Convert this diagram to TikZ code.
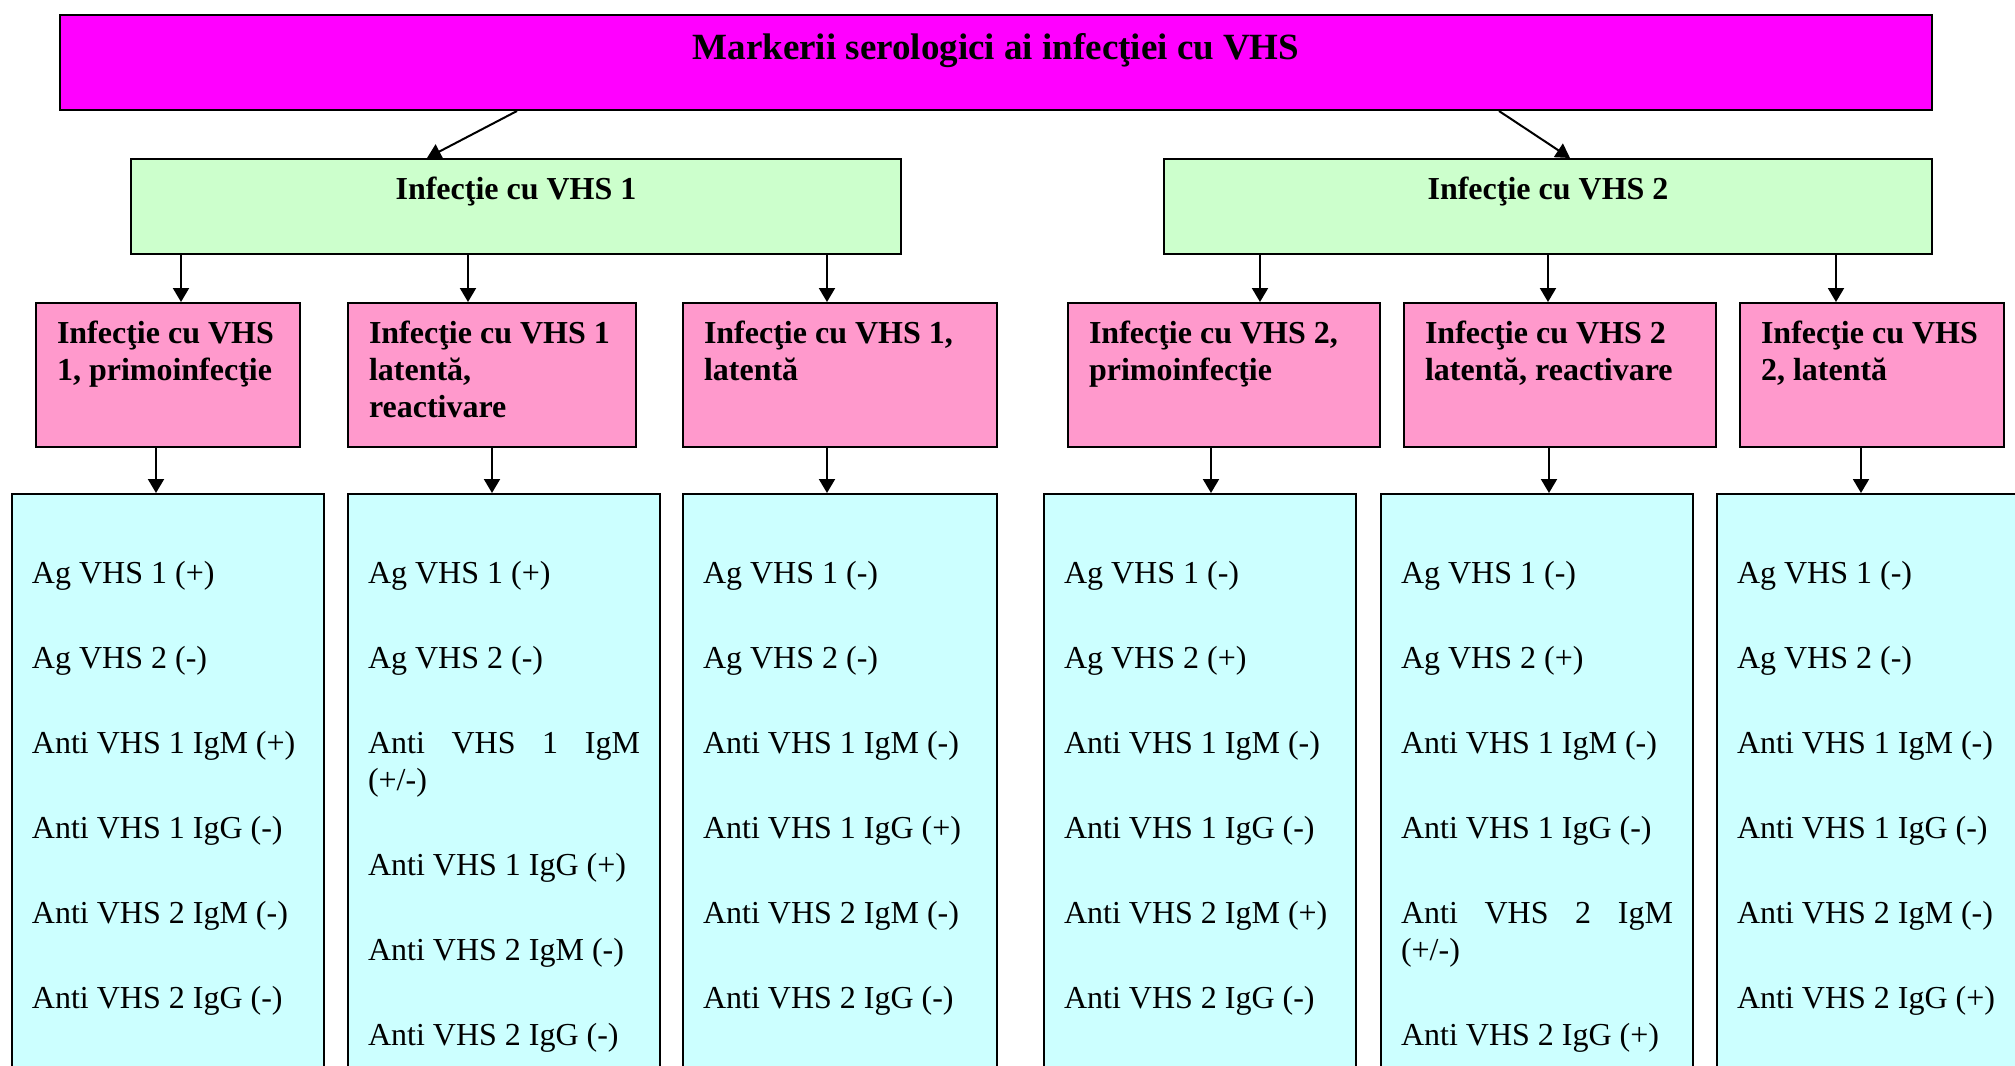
\documentclass[tikz,border=0pt]{standalone}
\usepackage{fontspec}
\setmainfont{Liberation Serif}
\usepackage{xcolor}
\definecolor{vhsmag}{HTML}{FF00FF}
\definecolor{vhsgreen}{HTML}{CCFFCC}
\definecolor{vhspink}{HTML}{FF99CC}
\definecolor{vhscyan}{HTML}{CCFFFF}
\usepackage{tikz}
\usetikzlibrary{arrows.meta,calc}
\newcommand{\gap}{\\[24pt]}

\begin{document}
\begin{tikzpicture}[x=0.5pt,y=-0.5pt,
  box/.style={draw,line width=1pt,anchor=north west,inner ysep=0pt,
    font=\fontsize{16}{18.5}\selectfont,
    execute at begin node={\spaceskip=0pt\xspaceskip=0pt}},
  titlebox/.style={box,fill=vhsmag,font=\fontsize{18.5}{21}\selectfont\bfseries,
    text height=22.2pt,text depth=25.3pt},
  typebox/.style={box,fill=vhsgreen,font=\fontsize{16}{18.5}\selectfont\bfseries,
    text height=20pt,text depth=27.5pt},
  formbox/.style={box,fill=vhspink,font=\fontsize{16}{18.5}\selectfont\bfseries,
    align=left,inner xsep=10.5pt,text height=20.3pt,text depth=51.7pt},
  markbox/.style={box,fill=vhscyan,align=left,inner xsep=10pt,
    text height=44.8pt,text depth=400pt},
  arr/.style={-{Triangle[length=7pt,width=8pt]},line width=1pt}]
\useasboundingbox (0,0) rectangle (2015,1066);
\clip (0,0) rectangle (2015,1066);

\node[titlebox,minimum width=936pt] (top) at (59,14) {Markerii serologici ai infecţiei cu VHS};

\node[typebox,minimum width=385pt] (g1) at (130,158) {Infecţie cu VHS 1};
\node[typebox,minimum width=384pt] (g2) at (1163,158) {Infecţie cu VHS 2};

\node[formbox,text width=111pt] (p1) at (35,302) {Infecţie cu VHS\\1, primoinfecţie};
\node[formbox,text width=123pt] (p2) at (347,302) {Infecţie cu VHS 1\\latentă,\\reactivare};
\node[formbox,text width=136pt] (p3) at (682,302) {Infecţie cu VHS 1,\\latentă};
\node[formbox,text width=135pt] (p4) at (1067,302) {Infecţie cu VHS 2,\\primoinfecţie};
\node[formbox,text width=135pt] (p5) at (1403,302) {Infecţie cu VHS 2\\latentă, reactivare};
\node[formbox,text width=111pt] (p6) at (1739,302) {Infecţie cu VHS\\2, latentă};

\node[markbox,text width=136pt] (c1) at (11,493) {Ag VHS 1 (+)\gap Ag VHS 2 (-)\gap
  Anti VHS 1 IgM (+)\gap Anti VHS 1 IgG (-)\gap Anti VHS 2 IgM (-)\gap Anti VHS 2 IgG (-)};
\node[markbox,text width=136pt] (c2) at (347,493) {Ag VHS 1 (+)\gap Ag VHS 2 (-)\gap
  Anti\hfill VHS\hfill 1\hfill IgM\\(+/-)\gap Anti VHS 1 IgG (+)\gap Anti VHS 2 IgM (-)\gap Anti VHS 2 IgG (-)};
\node[markbox,text width=137pt] (c3) at (682,493) {Ag VHS 1 (-)\gap Ag VHS 2 (-)\gap
  Anti VHS 1 IgM (-)\gap Anti VHS 1 IgG (+)\gap Anti VHS 2 IgM (-)\gap Anti VHS 2 IgG (-)};
\node[markbox,text width=136pt] (c4) at (1043,493) {Ag VHS 1 (-)\gap Ag VHS 2 (+)\gap
  Anti VHS 1 IgM (-)\gap Anti VHS 1 IgG (-)\gap Anti VHS 2 IgM (+)\gap Anti VHS 2 IgG (-)};
\node[markbox,text width=136pt] (c5) at (1380,493) {Ag VHS 1 (-)\gap Ag VHS 2 (+)\gap
  Anti VHS 1 IgM (-)\gap Anti VHS 1 IgG (-)\gap Anti\hfill VHS\hfill 2\hfill IgM\\(+/-)\gap Anti VHS 2 IgG (+)};
\node[markbox,text width=136pt] (c6) at (1716,493) {Ag VHS 1 (-)\gap Ag VHS 2 (-)\gap
  Anti VHS 1 IgM (-)\gap Anti VHS 1 IgG (-)\gap Anti VHS 2 IgM (-)\gap Anti VHS 2 IgG (+)};

% title to the two virus types
\draw[arr] ($(top.south)+(-239.5pt,0)$) -- ($(g1.north)+(-44.5pt,0)$);
\draw[arr] ($(top.south)+(251.5pt,0)$) -- ($(g2.north)+(11pt,0)$);

% virus types to forms
\draw[arr] ($(p1.north |- g1.south)+(6.5pt,0)$) -- ($(p1.north)+(6.5pt,0)$);
\draw[arr] ($(p2.north |- g1.south)+(-12pt,0)$) -- ($(p2.north)+(-12pt,0)$);
\draw[arr] ($(p3.north |- g1.south)+(-6.5pt,0)$) -- ($(p3.north)+(-6.5pt,0)$);
\draw[arr] ($(p4.north |- g2.south)+(18pt,0)$) -- ($(p4.north)+(18pt,0)$);
\draw[arr] ($(p5.north |- g2.south)+(-6pt,0)$) -- ($(p5.north)+(-6pt,0)$);
\draw[arr] ($(p6.north |- g2.south)+(-18pt,0)$) -- ($(p6.north)+(-18pt,0)$);

% forms to markers
\draw[arr] ($(p1.south)+(-6pt,0)$) -- ($(p1.south |- c1.north)+(-6pt,0)$);
\draw[arr] (p2.south) -- (p2.south |- c2.north);
\draw[arr] ($(p3.south)+(-6.5pt,0)$) -- ($(p3.south |- c3.north)+(-6.5pt,0)$);
\draw[arr] ($(p4.south)+(-6.5pt,0)$) -- ($(p4.south |- c4.north)+(-6.5pt,0)$);
\draw[arr] ($(p5.south)+(-5.5pt,0)$) -- ($(p5.south |- c5.north)+(-5.5pt,0)$);
\draw[arr] ($(p6.south)+(-5.5pt,0)$) -- ($(p6.south |- c6.north)+(-5.5pt,0)$);
\end{tikzpicture}
\end{document}
